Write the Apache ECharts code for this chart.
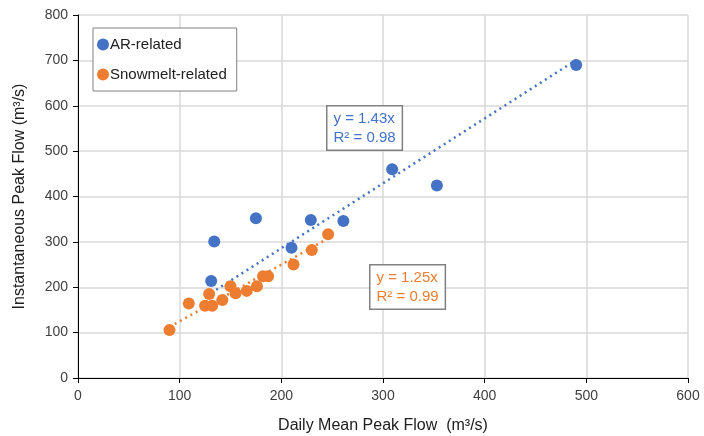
<!DOCTYPE html>
<html>
<head>
<meta charset="utf-8">
<script src="https://cdn.jsdelivr.net/npm/echarts@6/dist/echarts.min.js"></script>
<style>
  html, body { margin: 0; padding: 0; background: #fff; }
  #chart { width: 704px; height: 436px; }
</style>
</head>
<body>
<div id="chart"></div>
<script>
// values (m3/s)
const arDaily = [490, 309, 353, 261, 229, 210, 175, 134, 131];
const arPeak = [690, 460, 424, 346, 348, 287, 352, 301, 214];
const snowDaily = [90, 109, 129, 125, 132, 142, 150, 155, 166, 176, 182, 187, 212, 230, 246];
const snowPeak = [106, 164, 185, 159, 159, 172, 202, 187, 192, 202, 224, 224, 250, 282, 317];

// fitted lines through origin, drawn over the span of each series
const arSlope = 1.43, arR2 = 0.98;
const snowSlope = 1.25, snowR2 = 0.99;

const BLUE = '#4472C4';
const ORANGE = '#ED7D31';
const FONT = '"Liberation Sans", Arial, sans-serif';

function pairs(xs, ys) { return xs.map((x, i) => [x, ys[i]]); }
function fitLine(xs, k) {
  const lo = Math.min(...xs), hi = Math.max(...xs);
  return [[lo, k * lo], [hi, k * hi]];
}

const chart = echarts.init(document.getElementById('chart'), null, { renderer: 'canvas' });

const axisText = { color: '#404040', fontFamily: FONT, fontSize: 14 };

chart.setOption({
  animation: false,
  textStyle: { fontFamily: FONT },
  grid: { left: 78, right: 16, top: 15, bottom: 58, outerBoundsMode: 'none', containLabel: false },
  legend: {
    orient: 'vertical',
    left: 93, top: 28,
    padding: [9, 10, 9, 4],
    itemGap: 15,
    itemWidth: 12, itemHeight: 12,
    borderColor: '#808080', borderWidth: 1,
    backgroundColor: '#fff',
    textStyle: { color: '#202020', fontSize: 15, fontFamily: FONT, padding: [0, 0, 0, -4] },
    data: [{ name: 'AR-related', icon: 'circle' }, { name: 'Snowmelt-related', icon: 'circle' }]
  },
  xAxis: {
    type: 'value', min: 0, max: 600, interval: 100,
    name: 'Daily Mean Peak Flow  (m³/s)',
    nameLocation: 'middle', nameGap: 40,
    nameTextStyle: { color: '#202020', fontSize: 16, fontFamily: FONT },
    axisLine: { show: true, lineStyle: { color: '#000', width: 1 } },
    axisTick: { show: true, length: 5, lineStyle: { color: '#000' } },
    axisLabel: Object.assign({ margin: 11 }, axisText),
    splitLine: { show: true, lineStyle: { color: '#d9d9d9', width: 1.5 } }
  },
  yAxis: {
    type: 'value', min: 0, max: 800, interval: 100,
    name: 'Instantaneous Peak Flow (m³/s)',
    nameLocation: 'middle', nameGap: 50, nameRotate: 90,
    nameTextStyle: { color: '#202020', fontSize: 16, fontFamily: FONT },
    axisLine: { show: true, lineStyle: { color: '#000', width: 1 } },
    axisTick: { show: true, length: 5, lineStyle: { color: '#000' } },
    axisLabel: Object.assign({ margin: 10 }, axisText),
    splitLine: { show: true, lineStyle: { color: '#d9d9d9', width: 1.5 } }
  },
  series: [
    {
      name: 'AR-related', type: 'scatter', symbolSize: 12,
      itemStyle: { color: BLUE, opacity: 1 },
      data: pairs(arDaily, arPeak), z: 3
    },
    {
      name: 'Snowmelt-related', type: 'scatter', symbolSize: 12,
      itemStyle: { color: ORANGE, opacity: 1 },
      data: pairs(snowDaily, snowPeak), z: 3
    },
    {
      name: 'AR fit', type: 'line', symbol: 'none', silent: true,
      lineStyle: { color: BLUE, width: 2.5, type: [2, 4] },
      data: fitLine(arDaily, arSlope), z: 2
    },
    {
      name: 'Snow fit', type: 'line', symbol: 'none', silent: true,
      lineStyle: { color: ORANGE, width: 2.5, type: [2, 4] },
      data: fitLine(snowDaily, snowSlope), z: 2
    }
  ],
  graphic: [
    {
      type: 'text', left: 326, top: 105, z: 10,
      style: {
        text: 'y = ' + arSlope.toFixed(2) + 'x\nR² = ' + arR2.toFixed(2),
        fill: BLUE, font: '15px ' + FONT, lineHeight: 19,
        backgroundColor: '#fff', borderColor: '#808080', borderWidth: 1.5,
        padding: [3, 6, 2, 6]
      }
    },
    {
      type: 'text', left: 369, top: 264, z: 10,
      style: {
        text: 'y = ' + snowSlope.toFixed(2) + 'x\nR² = ' + snowR2.toFixed(2),
        fill: ORANGE, font: '15px ' + FONT, lineHeight: 19,
        backgroundColor: '#fff', borderColor: '#808080', borderWidth: 1.5,
        padding: [3, 6, 2, 6]
      }
    }
  ]
});
</script>
</body>
</html>
